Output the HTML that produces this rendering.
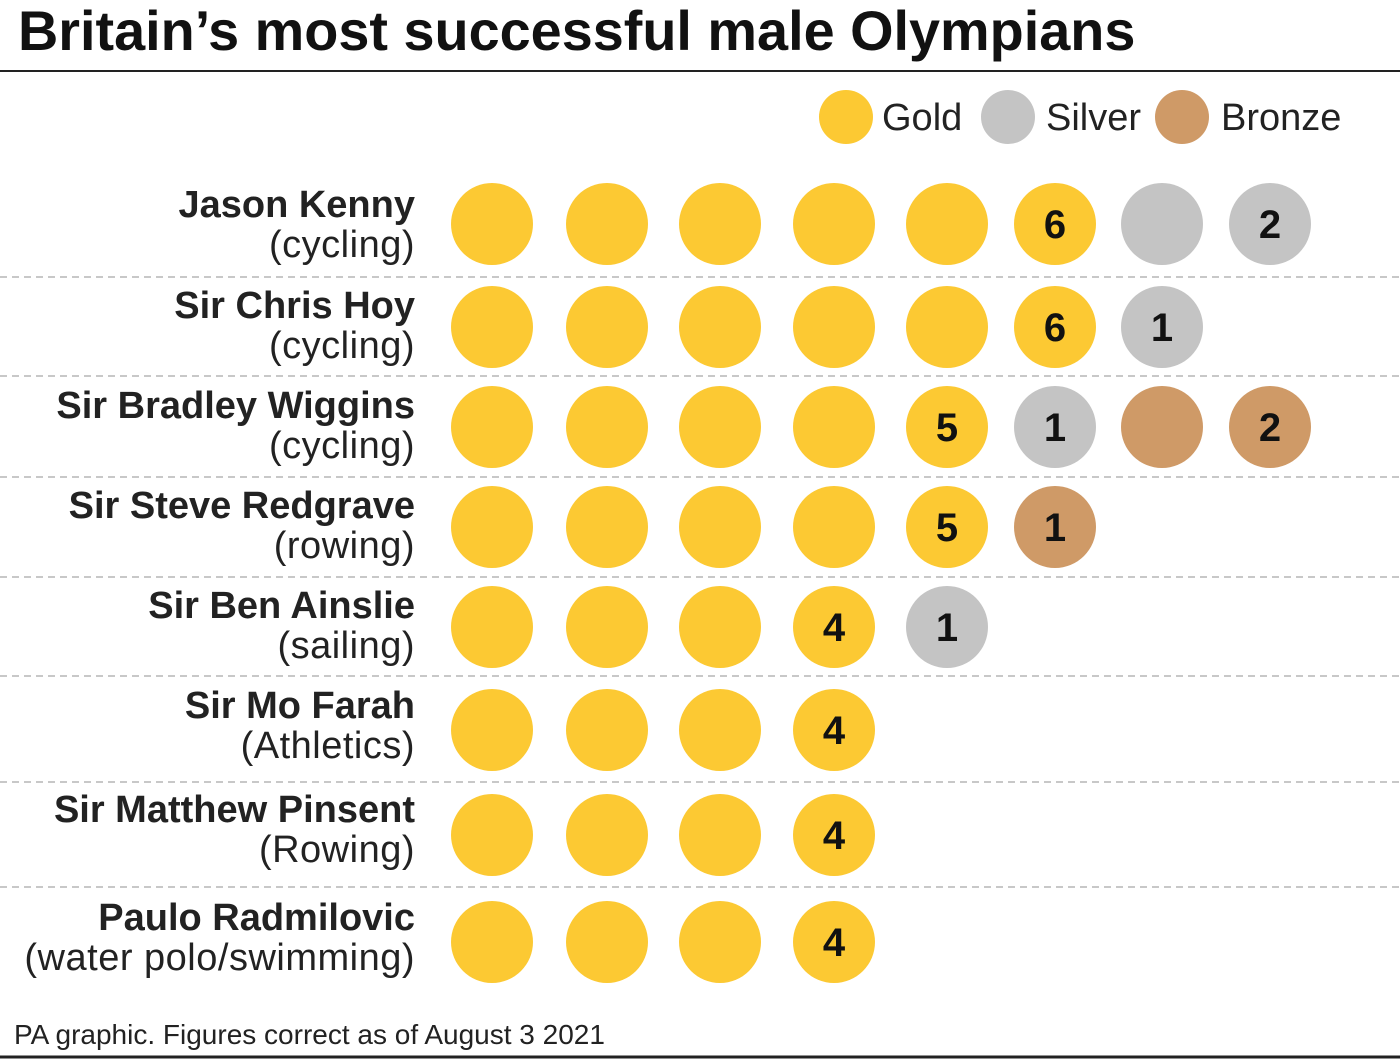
<!DOCTYPE html>
<html><head><meta charset="utf-8"><style>
html,body{margin:0;padding:0;background:#fff;}
svg{display:block;font-family:"Liberation Sans",sans-serif;}
</style></head><body>
<svg width="1400" height="1062" viewBox="0 0 1400 1062">
<text x="18" y="50" font-size="55.8" font-weight="bold" fill="#111">Britain’s most successful male Olympians</text>
<line x1="0" y1="71" x2="1400" y2="71" stroke="#222" stroke-width="2"/>
<g font-size="38" fill="#222">
<circle cx="846" cy="117" r="27" fill="#FCC933"/><text x="882" y="130">Gold</text>
<circle cx="1008" cy="117" r="27" fill="#C4C4C4"/><text x="1046" y="130">Silver</text>
<circle cx="1182" cy="117" r="27" fill="#CF9A67"/><text x="1221" y="130">Bronze</text>
</g>
<g stroke="#c8c8c8" stroke-width="2" stroke-dasharray="7,5">
<line x1="0" y1="277" x2="1400" y2="277"/>
<line x1="0" y1="376" x2="1400" y2="376"/>
<line x1="0" y1="477" x2="1400" y2="477"/>
<line x1="0" y1="577" x2="1400" y2="577"/>
<line x1="0" y1="676" x2="1400" y2="676"/>
<line x1="0" y1="782" x2="1400" y2="782"/>
<line x1="0" y1="887" x2="1400" y2="887"/>
</g>
<g font-size="38" fill="#222" text-anchor="end">
<g font-weight="bold">
<text x="415" y="217">Jason Kenny</text>
<text x="415" y="318">Sir Chris Hoy</text>
<text x="415" y="418">Sir Bradley Wiggins</text>
<text x="415" y="518">Sir Steve Redgrave</text>
<text x="415" y="618">Sir Ben Ainslie</text>
<text x="415" y="718">Sir Mo Farah</text>
<text x="415" y="822">Sir Matthew Pinsent</text>
<text x="415" y="930">Paulo Radmilovic</text>
</g>
<g letter-spacing="0.5">
<text x="415" y="257">(cycling)</text>
<text x="415" y="358">(cycling)</text>
<text x="415" y="458">(cycling)</text>
<text x="415" y="558">(rowing)</text>
<text x="415" y="658">(sailing)</text>
<text x="415" y="758">(Athletics)</text>
<text x="415" y="862">(Rowing)</text>
<text x="415" y="970">(water polo/swimming)</text>
</g>
</g>
<g>
<circle cx="492" cy="224" r="41" fill="#FCC933"/><circle cx="607" cy="224" r="41" fill="#FCC933"/><circle cx="720" cy="224" r="41" fill="#FCC933"/><circle cx="834" cy="224" r="41" fill="#FCC933"/><circle cx="947" cy="224" r="41" fill="#FCC933"/><circle cx="1055" cy="224" r="41" fill="#FCC933"/><circle cx="1162" cy="224" r="41" fill="#C4C4C4"/><circle cx="1270" cy="224" r="41" fill="#C4C4C4"/>
<circle cx="492" cy="327" r="41" fill="#FCC933"/><circle cx="607" cy="327" r="41" fill="#FCC933"/><circle cx="720" cy="327" r="41" fill="#FCC933"/><circle cx="834" cy="327" r="41" fill="#FCC933"/><circle cx="947" cy="327" r="41" fill="#FCC933"/><circle cx="1055" cy="327" r="41" fill="#FCC933"/><circle cx="1162" cy="327" r="41" fill="#C4C4C4"/>
<circle cx="492" cy="427" r="41" fill="#FCC933"/><circle cx="607" cy="427" r="41" fill="#FCC933"/><circle cx="720" cy="427" r="41" fill="#FCC933"/><circle cx="834" cy="427" r="41" fill="#FCC933"/><circle cx="947" cy="427" r="41" fill="#FCC933"/><circle cx="1055" cy="427" r="41" fill="#C4C4C4"/><circle cx="1162" cy="427" r="41" fill="#CF9A67"/><circle cx="1270" cy="427" r="41" fill="#CF9A67"/>
<circle cx="492" cy="527" r="41" fill="#FCC933"/><circle cx="607" cy="527" r="41" fill="#FCC933"/><circle cx="720" cy="527" r="41" fill="#FCC933"/><circle cx="834" cy="527" r="41" fill="#FCC933"/><circle cx="947" cy="527" r="41" fill="#FCC933"/><circle cx="1055" cy="527" r="41" fill="#CF9A67"/>
<circle cx="492" cy="627" r="41" fill="#FCC933"/><circle cx="607" cy="627" r="41" fill="#FCC933"/><circle cx="720" cy="627" r="41" fill="#FCC933"/><circle cx="834" cy="627" r="41" fill="#FCC933"/><circle cx="947" cy="627" r="41" fill="#C4C4C4"/>
<circle cx="492" cy="730" r="41" fill="#FCC933"/><circle cx="607" cy="730" r="41" fill="#FCC933"/><circle cx="720" cy="730" r="41" fill="#FCC933"/><circle cx="834" cy="730" r="41" fill="#FCC933"/>
<circle cx="492" cy="835" r="41" fill="#FCC933"/><circle cx="607" cy="835" r="41" fill="#FCC933"/><circle cx="720" cy="835" r="41" fill="#FCC933"/><circle cx="834" cy="835" r="41" fill="#FCC933"/>
<circle cx="492" cy="942" r="41" fill="#FCC933"/><circle cx="607" cy="942" r="41" fill="#FCC933"/><circle cx="720" cy="942" r="41" fill="#FCC933"/><circle cx="834" cy="942" r="41" fill="#FCC933"/>
</g>
<g font-size="40" font-weight="bold" text-anchor="middle" fill="#111">
<text x="1055" y="238">6</text><text x="1270" y="238">2</text>
<text x="1055" y="341">6</text><text x="1162" y="341">1</text>
<text x="947" y="441">5</text><text x="1055" y="441">1</text><text x="1270" y="441">2</text>
<text x="947" y="541">5</text><text x="1055" y="541">1</text>
<text x="834" y="641">4</text><text x="947" y="641">1</text>
<text x="834" y="744">4</text>
<text x="834" y="849">4</text>
<text x="834" y="956">4</text>
</g>
<text x="14" y="1044" font-size="28" fill="#222">PA graphic. Figures correct as of August 3 2021</text>
<line x1="0" y1="1057" x2="1400" y2="1057" stroke="#222" stroke-width="3"/>
</svg>
</body></html>
